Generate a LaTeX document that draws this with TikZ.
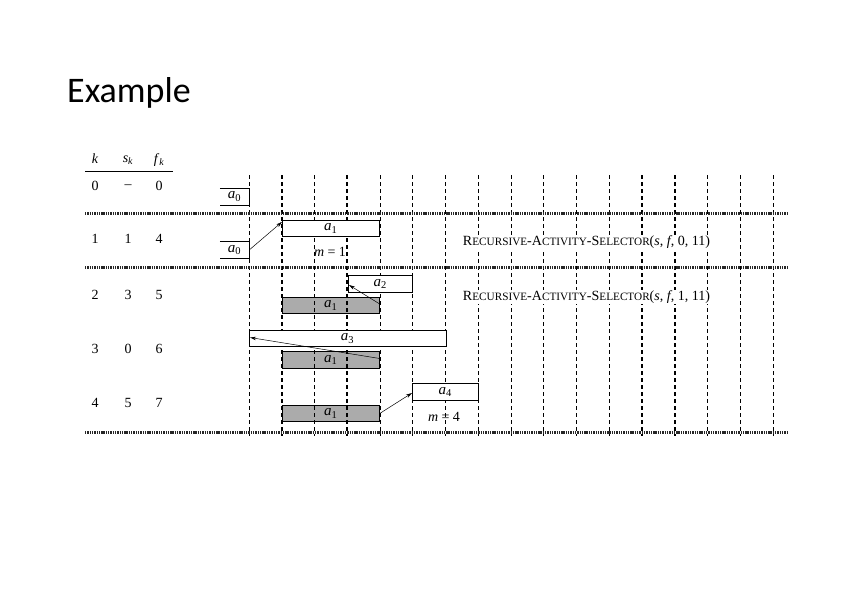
\documentclass[tikz,border=0pt]{standalone}
\usepackage{fontspec}
\setmainfont{Liberation Serif}
\newfontfamily\titlefont{Carlito}
\usetikzlibrary{arrows.meta}
\newcommand{\ai}[1]{\textit{a}\textsubscript{#1}}
\newcommand{\rasel}[1]{\resizebox{247pt}{!}{R{\footnotesize ECURSIVE}-A{\footnotesize CTIVITY}-S{\footnotesize ELECTOR}(\textit{s}, \textit{f}, #1, 11)}}
\begin{document}
\begin{tikzpicture}[x=1pt,y=-1pt,
  tl/.style={dash pattern=on 4pt off 3pt, line width=0.7pt},
  tk/.style={dash pattern=on 4pt off 3pt, line width=1.6pt},
  stripe/.style={line width=3pt, dash pattern=on 1.4pt off 0.9pt, black!85},
  cell/.style={font=\fontsize{14}{16}\selectfont, inner sep=0pt},
  act/.style={draw, fill=white, line width=0.7pt, inner sep=0pt, minimum height=16.5pt, anchor=west, font=\fontsize{15}{17}\selectfont},
  done/.style={act, fill=black, fill opacity=0.33, text opacity=1},
  open/.style={inner sep=0pt, minimum width=29pt, minimum height=16.5pt, font=\fontsize{15}{17}\selectfont},
  arr/.style={-{Stealth[length=6pt,width=3.5pt]}, line width=0.5pt},
  rlabel/.style={fill=white, inner sep=1pt}]
\useasboundingbox (0,0) rectangle (842,595);
% title
\node[anchor=base west, inner sep=0pt, font=\titlefont\fontsize{36}{40}\selectfont] (title) at (67,102) {Example};
% time lines
\foreach \t in {0,4,5,6,7,8,9,10,11,14,15,16}
  \draw[tl] ({249+32.75*\t},175) -- ({249+32.75*\t},436);
\foreach \t in {1,2,3,12,13}
  \draw[tk] ({249+32.75*\t},175) -- ({249+32.75*\t},436);
% stripes
\draw[stripe] (85,213) -- (787,213);
\draw[stripe] (85,267.5) -- (787,267.5);
\draw[stripe] (85,432.5) -- (787,432.5);
% table
\node[cell] (hk) at (95,159) {\textit{k}};
\node[cell] (hs) at (128,160) {\textit{s}\textsubscript{\textit{k}}};
\node[cell] (hf) at (159,160) {\textit{f}\textsubscript{\textit{k}}};
\draw[line width=0.6pt] (85,171.5) -- (173,171.5);
\node[cell] (k0) at (95,186) {0};  \node[cell] (s0) at (128,187) {--}; \node[cell] (f0) at (159,186) {0};
\node[cell] (k1) at (95,239) {1};  \node[cell] (s1) at (128,239) {1};  \node[cell] (f1) at (159,239) {4};
\node[cell] (k2) at (95,295) {2};  \node[cell] (s2) at (128,295) {3};  \node[cell] (f2) at (159,295) {5};
\node[cell] (k3) at (95,349) {3};  \node[cell] (s3) at (128,349) {0};  \node[cell] (f3) at (159,349) {6};
\node[cell] (k4) at (95,403) {4};  \node[cell] (s4) at (128,403) {5};  \node[cell] (f4) at (159,403) {7};
% a0 boxes (open on the left)
\node[open] (a0r0) at (234.5,196.5) {\ai{0}};
\draw[line width=0.7pt] (a0r0.north west) -- (a0r0.north east) -- (a0r0.south east) -- (a0r0.south west);
\node[open] (a0r1) at (234.5,250) {\ai{0}};
\draw[line width=0.7pt] (a0r1.north west) -- (a0r1.north east) -- (a0r1.south east) -- (a0r1.south west);
% activities
\node[act, minimum width=97pt] (a1r1) at (282,228.5) {\ai{1}};
\node[act, minimum width=64pt] (a2) at (348,284) {\ai{2}};
\node[done, minimum width=97pt] (g2) at (282,305.5) {\ai{1}};
\node[act, minimum width=196.5pt] (a3) at (249,338.5) {\ai{3}};
\node[done, minimum width=97pt] (g3) at (282,360) {\ai{1}};
\node[act, minimum width=66pt] (a4) at (412,392) {\ai{4}};
\node[done, minimum width=97pt] (g4) at (282,413.5) {\ai{1}};
% m labels
\node[cell] (m1) at (330,252) {\textit{m} = 1};
\node[cell] (m4) at (444,417) {\textit{m} = 4};
% arrows
\draw[arr] (a0r1.east) -- ([yshift=-2pt]a1r1.north west);
\draw[arr] ([yshift=1.5pt]g2.east) -- ([xshift=1pt,yshift=-1pt]a2.west);
\draw[arr] ([yshift=1.5pt]g3.east) -- ([xshift=1pt,yshift=1pt]a3.west);
\draw[arr] (g4.east) -- ([yshift=-1pt]a4.west);
% calls
\node[rlabel] (r0) at (586.5,242) {\rasel{0}};
\node[rlabel] (r1) at (586.5,297) {\rasel{1}};
\end{tikzpicture}
\end{document}
